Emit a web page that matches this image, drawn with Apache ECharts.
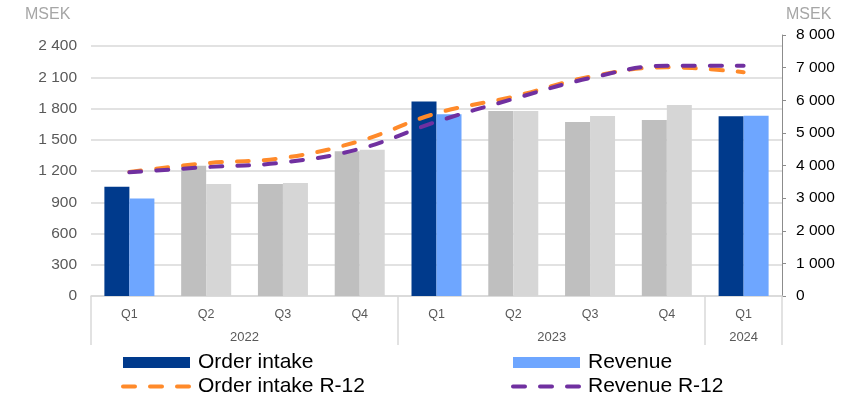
<!DOCTYPE html>
<html>
<head>
<meta charset="utf-8">
<script src="https://cdn.jsdelivr.net/npm/echarts@6/dist/echarts.min.js"></script>
<style>
  html, body { margin: 0; padding: 0; background: #fff; }
  #chart { width: 854px; height: 397px; }
</style>
</head>
<body>
<div id="chart"></div>
<script>
// quarters on the x axis, grouped by year below
const categories = ['Q1', 'Q2', 'Q3', 'Q4', 'Q1', 'Q2', 'Q3', 'Q4', 'Q1']
const years = ['2022', '2023', '2024']
const quartersPerYear = [4, 4, 1]

// MSEK per quarter (left axis)
const orderIntake = [1050, 1250, 1075, 1390, 1868, 1776, 1670, 1690, 1725]
const revenue = [935, 1075, 1085, 1405, 1745, 1776, 1728, 1834, 1731]

// rolling 12 months (right axis)
const orderIntakeR12 = [3800, 4070, 4230, 4750, 5600, 6110, 6720, 7010, 6860]
const revenueR12 = [3790, 3950, 4090, 4510, 5340, 6040, 6680, 7060, 7060]

const BLUE = '#003A8C'
const LIGHT_BLUE = '#6EA6FF'
const GREY_DARK = '#BFBFBF'
const GREY_LIGHT = '#D6D6D6'
const ORANGE = '#FF8A2A'
const PURPLE = '#7030A0'
const font = '"Liberation Sans", Arial, sans-serif'
const dash = { width: 4, type: [12, 15], cap: 'round' }

// year separators and label positions on a 0..n value axis
const yearBounds = [0]
quartersPerYear.forEach(n => yearBounds.push(yearBounds[yearBounds.length - 1] + n))
const yearCenters = quartersPerYear.map((n, i) => yearBounds[i] + n / 2)

const isHighlighted = i => categories[i] === 'Q1'
const fmt = v => v.toLocaleString('sv-SE').replace(/\s/g, ' ')

const chart = echarts.init(document.getElementById('chart'), null, { renderer: 'canvas' })

// legend line items: dashed line, hide the default symbol
const lineLegend = (name, color) => ({
  name,
  itemStyle: { opacity: 0 },
  lineStyle: Object.assign({ color }, dash)
})

const legendBase = {
  orient: 'vertical', bottom: 0, padding: 0,
  itemWidth: 67, itemHeight: 11, itemGap: 3,
  textStyle: { fontSize: 21, color: '#000', fontFamily: font, lineHeight: 20, padding: [0, 0, 0, 3] }
}

const option = {
  animation: false,
  textStyle: { fontFamily: font },
  title: [
    { text: 'MSEK', left: 20, top: 2, textStyle: { fontSize: 16, fontWeight: 'normal', color: '#A6A6A6', fontFamily: font } },
    { text: 'MSEK', left: 781, top: 2, textStyle: { fontSize: 16, fontWeight: 'normal', color: '#A6A6A6', fontFamily: font } }
  ],
  legend: [
    Object.assign({}, legendBase, {
      left: 121,
      data: [{ name: 'Order intake', icon: 'rect' }, lineLegend('Order intake R-12', ORANGE)]
    }),
    Object.assign({}, legendBase, {
      left: 511,
      data: [{ name: 'Revenue', icon: 'rect' }, lineLegend('Revenue R-12', PURPLE)]
    })
  ],
  grid: [
    { left: 91, right: 72, top: 46, bottom: 101 },
    { left: 91, right: 72, top: 35, bottom: 101 }
  ],
  xAxis: [
    {
      type: 'category', gridIndex: 0, position: 'bottom', data: categories,
      axisLine: { lineStyle: { color: '#D9D9D9', width: 1.5 } },
      axisTick: { show: false },
      axisLabel: { color: '#595959', fontSize: 12.5, margin: 12 }
    },
    {
      type: 'value', gridIndex: 0, position: 'bottom', min: 0, max: yearBounds[yearBounds.length - 1],
      axisLine: { show: false },
      splitLine: { show: false },
      axisTick: { show: true, customValues: yearBounds, length: 49, lineStyle: { color: '#D9D9D9', width: 1.5 } },
      axisLabel: {
        customValues: yearCenters, color: '#595959', fontSize: 13, margin: 35,
        formatter: v => years[yearCenters.indexOf(v)] || ''
      }
    },
    { type: 'category', gridIndex: 1, data: categories, show: false }
  ],
  yAxis: [
    {
      type: 'value', gridIndex: 0, min: 0, max: 2400, interval: 300,
      axisLine: { show: false }, axisTick: { show: false },
      splitLine: { lineStyle: { color: '#D9D9D9', width: 1.5 } },
      axisLabel: { color: '#595959', fontSize: 15.5, margin: 14, formatter: fmt }
    },
    {
      type: 'value', gridIndex: 1, position: 'right', min: 0, max: 8000, interval: 1000,
      axisLine: { show: true, lineStyle: { color: '#8C8C8C', width: 1 } },
      axisTick: { show: true, length: 4, lineStyle: { color: '#8C8C8C' } },
      splitLine: { show: false },
      axisLabel: { color: '#000', fontSize: 15.5, margin: 14, formatter: fmt }
    }
  ],
  series: [
    {
      name: 'Order intake', type: 'bar', xAxisIndex: 0, yAxisIndex: 0,
      barWidth: 25, barGap: '0%',
      itemStyle: { color: BLUE },
      data: orderIntake.map((v, i) => isHighlighted(i) ? v : { value: v, itemStyle: { color: GREY_DARK } })
    },
    {
      name: 'Revenue', type: 'bar', xAxisIndex: 0, yAxisIndex: 0,
      barWidth: 25, barGap: '0%',
      itemStyle: { color: LIGHT_BLUE },
      data: revenue.map((v, i) => isHighlighted(i) ? v : { value: v, itemStyle: { color: GREY_LIGHT } })
    },
    {
      name: 'Order intake R-12', type: 'line', xAxisIndex: 2, yAxisIndex: 1,
      smooth: 0.4, symbol: 'none',
      lineStyle: Object.assign({ color: ORANGE }, dash),
      itemStyle: { color: ORANGE },
      data: orderIntakeR12
    },
    {
      name: 'Revenue R-12', type: 'line', xAxisIndex: 2, yAxisIndex: 1,
      smooth: 0.4, symbol: 'none',
      lineStyle: Object.assign({ color: PURPLE }, dash),
      itemStyle: { color: PURPLE },
      data: revenueR12
    }
  ]
}

chart.setOption(option)
</script>
</body>
</html>
